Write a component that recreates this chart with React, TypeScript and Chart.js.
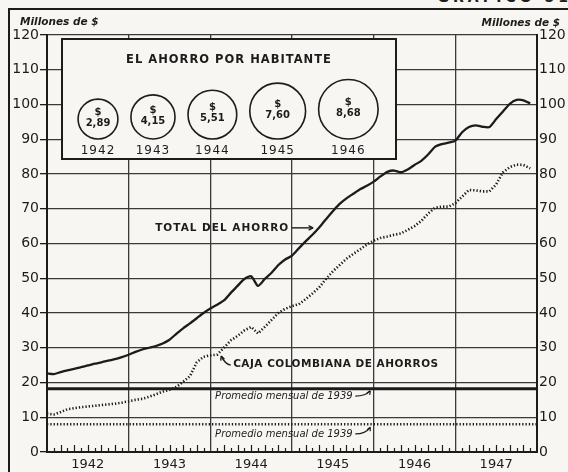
import React, { useEffect, useRef } from 'react';
import { Chart, registerables } from 'chart.js';
Chart.register(...registerables);

// ---------- data ----------
const years = ['1942', '1943', '1944', '1945', '1946', '1947'];

// Monthly values, Jan 1942 .. Dec 1947 (millions of $)
const totalAhorro = [
  22.6, 22.4, 23.0, 23.5, 23.9, 24.4, 24.9, 25.4, 25.8, 26.3, 26.7, 27.3,
  28.0, 28.8, 29.5, 30.0, 30.5, 31.2, 32.3, 34.0, 35.6, 37.0, 38.5, 40.0,
  41.3, 42.4, 43.6, 45.8, 47.8, 49.8, 50.6, 47.8, 49.8, 51.6, 53.8, 55.4,
  56.5, 58.6, 60.6, 62.5, 64.6, 67.0, 69.3, 71.4, 73.0, 74.3, 75.6, 76.6,
  77.8, 79.3, 80.6, 81.0, 80.5, 81.3, 82.6, 83.8, 85.6, 87.8, 88.6, 89.0,
  89.6, 92.0, 93.5, 94.0, 93.6, 93.5, 95.8, 98.0, 100.2, 101.3, 101.2, 100.3,
];
const cajaColombiana = [
  11.0, 10.8, 11.5, 12.3, 12.6, 12.9, 13.1, 13.3, 13.5, 13.7, 13.9, 14.2,
  14.6, 15.0, 15.3, 15.9, 16.6, 17.4, 17.9, 18.7, 20.2, 21.8, 25.8, 27.4,
  27.8, 28.0, 30.0, 32.1, 33.4, 35.0, 36.0, 34.1, 36.0, 38.0, 40.0, 41.2,
  42.0, 42.5, 44.0, 45.6, 47.4, 49.8, 52.0, 53.8, 55.6, 57.0, 58.3, 59.7,
  60.8, 61.6, 62.0, 62.5, 62.9, 63.9, 65.0, 66.5, 68.6, 70.3, 70.6, 70.6,
  71.6, 73.5, 75.4, 75.3, 75.0, 75.0, 77.0, 80.5, 82.0, 82.7, 82.6, 81.6,
];
const promedio1939Total = 18.2;
const promedio1939Caja = 8.0;

const insetYears = ['1942', '1943', '1944', '1945', '1946'];
const ahorroPorHabitante = [2.89, 4.15, 5.51, 7.6, 8.68];

// ---------- style ----------
const W = 568;
const H = 472;
const BG = '#f7f6f2';
const INK = '#1c1c1c';
const GRID = '#3a3a3a';
const FAMILY = '"DejaVu Sans", "Liberation Sans", sans-serif';
const MONTHS = years.length * 12;

const mainAnnotations = {
  id: 'mainAnnotations',
  afterDatasetsDraw(chart: any) {
    const { ctx, scales } = chart;
    const x = scales.x;
    const y = scales.y;
    const px = (m: number) => x.getPixelForValue(m);
    const py = (v: number) => y.getPixelForValue(v);
    ctx.save();
    // monthly minor ticks rising from the base line
    ctx.strokeStyle = INK;
    ctx.lineWidth = 1.2;
    for (let m = 1; m < MONTHS; m++) {
      if (m % 12 === 0) continue;
      const len = m % 2 === 0 ? 7 : 4;
      const xx = Math.round(px(m)) + 0.5;
      ctx.beginPath();
      ctx.moveTo(xx, py(0));
      ctx.lineTo(xx, py(0) - len);
      ctx.stroke();
    }

    const arrowHead = (x1: number, y1: number, x0: number, y0: number, size = 5) => {
      const a = Math.atan2(y1 - y0, x1 - x0);
      ctx.beginPath();
      ctx.moveTo(x1, y1);
      ctx.lineTo(x1 - size * Math.cos(a - 0.45), y1 - size * Math.sin(a - 0.45));
      ctx.moveTo(x1, y1);
      ctx.lineTo(x1 - size * Math.cos(a + 0.45), y1 - size * Math.sin(a + 0.45));
      ctx.stroke();
    };

    ctx.fillStyle = INK;
    ctx.textBaseline = 'middle';
    ctx.textAlign = 'left';
    (ctx as any).letterSpacing = '1px';
    ctx.font = `bold 10.5px ${FAMILY}`;
    // TOTAL DEL AHORRO ->
    ctx.fillText('TOTAL DEL AHORRO', px(15.9), py(64.5));
    ctx.lineWidth = 1.4;
    ctx.beginPath();
    ctx.moveTo(px(36.0), py(64.5));
    ctx.lineTo(px(39.1), py(64.5));
    ctx.stroke();
    arrowHead(px(39.1), py(64.5), px(36.0), py(64.5));

    // CAJA COLOMBIANA DE AHORROS
    (ctx as any).letterSpacing = '0.5px';
    ctx.fillText('CAJA COLOMBIANA DE AHORROS', px(27.35), py(25.3));
    ctx.beginPath();
    ctx.moveTo(px(27.0), py(25.0));
    ctx.quadraticCurveTo(px(26.2), py(25.2), px(25.6), py(27.6));
    ctx.stroke();
    arrowHead(px(25.6), py(27.6), px(26.0), py(25.4), 4.5);

    // Promedio mensual de 1939 (twice)
    (ctx as any).letterSpacing = '0px';
    ctx.font = `italic 10px ${FAMILY}`;
    const prom = (v: number, target: number) => {
      ctx.fillText('Promedio mensual de 1939', px(24.7), py(v));
      ctx.lineWidth = 1.2;
      ctx.beginPath();
      ctx.moveTo(px(45.3), py(v));
      ctx.quadraticCurveTo(px(46.8), py(v), px(47.5), py(target));
      ctx.stroke();
      arrowHead(px(47.5), py(target), px(47.0), py(v), 4);
    };
    prom(16.1, 17.6);
    prom(5.2, 7.1);
    ctx.restore();
  },
};

function InsetChart() {
  const ref = useRef<HTMLCanvasElement>(null);
  useEffect(() => {
    const radius = (v: number) => 15 + 1.7 * v;
    const gap = 13;
    const xs: number[] = [];
    ahorroPorHabitante.forEach((v, i) => {
      if (i === 0) xs.push(35);
      else xs.push(xs[i - 1] + radius(ahorroPorHabitante[i - 1]) + gap + radius(v));
    });
    const points = ahorroPorHabitante.map((v, i) => ({ x: xs[i], y: radius(v) + 1, r: radius(v) }));

    const bubbleText = {
      id: 'bubbleText',
      beforeDraw(chart: any) {
        (chart.ctx as any).letterSpacing = '1px';
      },
      afterDatasetsDraw(chart: any) {
        const { ctx } = chart;
        const meta = chart.getDatasetMeta(0);
        ctx.save();
        (ctx as any).letterSpacing = '0px';
        ctx.fillStyle = INK;
        ctx.textAlign = 'center';
        ctx.textBaseline = 'middle';
        ctx.font = `bold 10px ${FAMILY}`;
        meta.data.forEach((el: any, i: number) => {
          ctx.fillText('$', el.x, el.y - 7);
          ctx.fillText(ahorroPorHabitante[i].toFixed(2).replace('.', ','), el.x, el.y + 4);
        });
        ctx.restore();
      },
    };

    const chart = new Chart(ref.current as HTMLCanvasElement, {
      type: 'bubble',
      data: {
        datasets: [
          {
            data: points as any,
            backgroundColor: 'transparent',
            borderColor: INK,
            borderWidth: 1.6,
            clip: false as any,
          },
        ],
      },
      options: {
        responsive: false,
        animation: false,
        devicePixelRatio: 1,
        layout: { padding: 0, autoPadding: false } as any,
        plugins: {
          legend: { display: false },
          tooltip: { enabled: false },
          title: {
            display: true,
            text: 'EL AHORRO POR HABITANTE',
            color: INK,
            font: { family: FAMILY, size: 11.5, weight: 'bold', lineHeight: '14px' as any },
            padding: { top: 13, bottom: 2 },
          },
        },
        scales: {
          x: {
            type: 'linear',
            min: 0,
            max: 332,
            afterBuildTicks: (s: any) => {
              s.ticks = xs.map((v) => ({ value: v }));
            },
            afterFit: (s: any) => {
              s.height = 18;
            },
            ticks: {
              autoSkip: false,
              maxRotation: 0,
              padding: 4,
              color: INK,
              font: { family: FAMILY, size: 12 },
              callback: (_v: any, i: number) => insetYears[i],
            },
            grid: { display: false, drawTicks: false },
            border: { display: false },
          },
          y: { display: false, min: 0, max: 71 },
        },
      },
      plugins: [bubbleText],
    });
    return () => chart.destroy();
  }, []);
  return <canvas ref={ref} width={332} height={118} style={{ display: 'block' }} />;
}

export default function App() {
  const ref = useRef<HTMLCanvasElement>(null);
  useEffect(() => {
    const line = (vals: number[]) => vals.map((v, i) => ({ x: i, y: v }));
    const flat = (v: number) => [
      { x: 0, y: v },
      { x: MONTHS, y: v },
    ];
    const chart = new Chart(ref.current as HTMLCanvasElement, {
      type: 'line',
      data: {
        datasets: [
          {
            label: 'Promedio mensual de 1939 (Caja)',
            data: flat(promedio1939Caja),
            borderColor: INK,
            borderWidth: 2.6,
            borderDash: [1.3, 2],
            pointRadius: 0,
          },
          {
            label: 'Promedio mensual de 1939 (Total)',
            data: flat(promedio1939Total),
            borderColor: INK,
            borderWidth: 3,
            pointRadius: 0,
          },
          {
            label: 'Caja Colombiana de Ahorros',
            data: line(cajaColombiana),
            borderColor: INK,
            borderWidth: 2.6,
            borderDash: [1.3, 2],
            pointRadius: 0,
          },
          {
            label: 'Total del ahorro',
            data: line(totalAhorro),
            borderColor: INK,
            borderWidth: 2.3,
            pointRadius: 0,
            tension: 0.2,
          },
        ],
      },
      options: {
        responsive: false,
        animation: false,
        devicePixelRatio: 1,
        layout: { padding: { top: 35, left: 0, right: 0, bottom: 0 } },
        plugins: { legend: { display: false }, tooltip: { enabled: false } },
        scales: {
          x: {
            type: 'linear',
            min: 0,
            max: MONTHS,
            afterFit: (s: any) => {
              s.height = 20;
            },
            ticks: {
              stepSize: 6,
              autoSkip: false,
              maxRotation: 0,
              padding: 5,
              color: INK,
              font: { family: FAMILY, size: 13 },
              callback: (v: any) => (Number(v) % 12 === 6 ? years[(Number(v) - 6) / 12] : ''),
            },
            grid: {
              color: (c: any) =>
                c.tick && c.tick.value % 12 === 0 && c.tick.value > 0 && c.tick.value < MONTHS ? GRID : 'transparent',
              lineWidth: 1.3,
              drawTicks: false,
            },
            border: { display: true, color: INK, width: 2 },
          },
          y: {
            position: 'left',
            min: 0,
            max: 120,
            afterFit: (s: any) => {
              s.width = 47;
            },
            ticks: { stepSize: 10, padding: 1, color: INK, font: { family: FAMILY, size: 14 } },
            grid: { color: GRID, lineWidth: 1.3, tickLength: 7, tickColor: INK, tickWidth: 1.3 },
            border: { display: true, color: INK, width: 2 },
          },
          y2: {
            position: 'right',
            min: 0,
            max: 120,
            afterFit: (s: any) => {
              s.width = 31;
            },
            ticks: { stepSize: 10, padding: 2, color: INK, font: { family: FAMILY, size: 14 } },
            grid: { drawOnChartArea: false, drawTicks: false },
            border: { display: true, color: INK, width: 2 },
          },
        },
      },
      plugins: [mainAnnotations],
    });
    return () => chart.destroy();
  }, []);

  return (
    <div
      style={{
        position: 'absolute',
        left: 0,
        top: 0,
        width: W,
        height: H,
        background: BG,
        overflow: 'hidden',
        fontFamily: FAMILY,
        color: INK,
      }}
    >
      <div
        style={{
          position: 'absolute',
          right: -4,
          top: -11,
          fontSize: 14,
          lineHeight: '16px',
          fontWeight: 'bold',
          letterSpacing: 4,
          whiteSpace: 'nowrap',
        }}
      >
        GRAFICO 51
      </div>
      <div style={{ position: 'absolute', left: 8, top: 8, width: W, height: 2, background: INK }} />
      <div style={{ position: 'absolute', left: 8, top: 8, width: 2, height: H, background: INK }} />
      <canvas ref={ref} width={W} height={H} style={{ position: 'absolute', left: 0, top: 0, display: 'block' }} />
      <div
        style={{
          position: 'absolute',
          left: 20,
          top: 15,
          fontSize: 10.5,
          fontStyle: 'italic',
          fontWeight: 'bold',
          whiteSpace: 'nowrap',
        }}
      >
        Millones de $
      </div>
      <div
        style={{
          position: 'absolute',
          right: 8,
          top: 16,
          fontSize: 10.5,
          fontStyle: 'italic',
          fontWeight: 'bold',
          whiteSpace: 'nowrap',
        }}
      >
        Millones de $
      </div>
      <div
        style={{
          position: 'absolute',
          left: 61,
          top: 38,
          width: 336,
          height: 122,
          boxSizing: 'border-box',
          border: `2px solid ${INK}`,
          background: BG,
        }}
      >
        <InsetChart />
      </div>
    </div>
  );
}
